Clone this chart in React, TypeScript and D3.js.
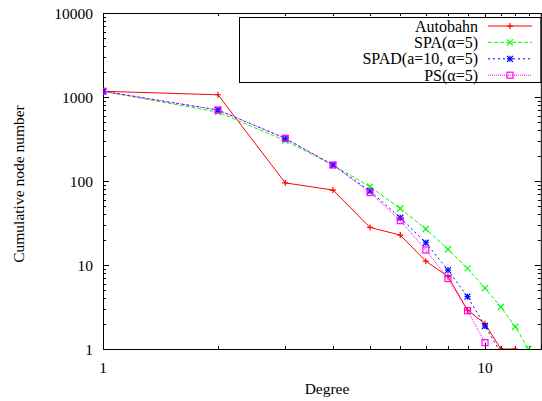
import React, { useEffect, useRef } from "react";
import * as d3 from "d3";

// degree values (x)
const degrees = [1, 2, 3, 4, 5, 6, 7, 8, 9, 10, 11, 12, 13];

// cumulative node numbers
const autobahn = [1170, 1063, 95, 78, 28, 22.7, 11.1, 7.3, 2.9, 2.0, 1, 1];
const spa = [1170, 660, 302, 155, 85.5, 47, 26.8, 15.4, 9.1, 5.3, 3.16, 1.84, 1];
const spad = [1170, 700, 322, 155, 76, 36.5, 18.4, 8.7, 4.2, 1.88, 0.9];
const ps = [1170, 700, 322, 155, 73, 33.7, 15.1, 6.9, 2.86, 1.19];

const seriesNames = ["Autobahn", "SPA(α=5)", "SPAD(a=10, α=5)", "PS(α=5)"];
const yTicks = [1, 10, 100, 1000, 10000];
const xTicks = [1, 10];

const W = 542,
  H = 401;
const FONT = "'Liberation Serif', 'Times New Roman', serif";

export default function App() {
  const ref = useRef<SVGSVGElement>(null);

  useEffect(() => {
    const svg = d3.select(ref.current);
    svg.selectAll("*").remove();

    const left = 103,
      top = 13,
      bottom = 349;
    const x = d3
      .scaleLog()
      .domain([1, 14])
      .range([left, left + 382 * Math.log10(14)]);
    const y = d3.scaleLog().domain([1, 10000]).range([bottom, top]);
    const right = x(14);

    const styles = [
      { color: "#ff0000", dash: null, marker: "plus" },
      { color: "#00ff00", dash: "4,2", marker: "cross" },
      { color: "#0000ff", dash: "2,3", marker: "star" },
      { color: "#ff00ff", dash: "1,1", marker: "square" },
    ];
    const allData = [autobahn, spa, spad, ps];

    svg
      .append("clipPath")
      .attr("id", "plotclip")
      .append("rect")
      .attr("x", left)
      .attr("y", top)
      .attr("width", right - left)
      .attr("height", bottom - top);

    // ticks (mirror on all sides, pointing inward)
    const axis = svg.append("g").attr("stroke", "#000").attr("stroke-width", 1);
    for (let d = 1; d <= 10000; d *= 10) {
      for (let m = 1; m <= 9; m++) {
        const v = d * m;
        if (v > 10000) break;
        const yy = Math.round(y(v)) + 0.5;
        const len = m === 1 ? 6 : 3;
        axis.append("line").attr("x1", left).attr("x2", left + len).attr("y1", yy).attr("y2", yy);
        axis.append("line").attr("x1", right).attr("x2", right - len).attr("y1", yy).attr("y2", yy);
      }
    }
    for (let v = 1; v <= 14; v++) {
      const xx = Math.round(x(v)) + 0.5;
      const len = v === 1 || v === 10 ? 6 : 3;
      axis.append("line").attr("x1", xx).attr("x2", xx).attr("y1", bottom).attr("y2", bottom - len);
      axis.append("line").attr("x1", xx).attr("x2", xx).attr("y1", top).attr("y2", top + len);
    }
    axis
      .append("rect")
      .attr("x", left + 0.5)
      .attr("y", top + 0.5)
      .attr("width", right - left)
      .attr("height", bottom - top)
      .attr("fill", "none");

    // tick labels
    const labels = svg.append("g").attr("font-family", FONT).attr("font-size", 15.5).attr("fill", "#000");
    yTicks.forEach((t) => {
      labels
        .append("text")
        .attr("x", 93)
        .attr("y", y(t) + 5.5)
        .attr("text-anchor", "end")
        .text(d3.format("d")(t));
    });
    xTicks.forEach((t) => {
      labels
        .append("text")
        .attr("x", x(t))
        .attr("y", 372.5)
        .attr("text-anchor", "middle")
        .text(t);
    });
    labels
      .append("text")
      .attr("x", 327)
      .attr("y", 393.5)
      .attr("text-anchor", "middle")
      .text("Degree");
    labels
      .append("text")
      .attr("transform", "translate(24," + 184 + ") rotate(-90)")
      .attr("text-anchor", "middle")
      .text("Cumulative node number");

    const drawMarker = (g: any, kind: string, cx: number, cy: number, color: string) => {
      const s = 3;
      if (kind === "plus" || kind === "star") {
        g.append("line").attr("x1", cx - s).attr("x2", cx + s).attr("y1", cy).attr("y2", cy).attr("stroke", color);
        g.append("line").attr("x1", cx).attr("x2", cx).attr("y1", cy - s).attr("y2", cy + s).attr("stroke", color);
      }
      if (kind === "cross" || kind === "star") {
        g.append("line").attr("x1", cx - s).attr("x2", cx + s).attr("y1", cy - s).attr("y2", cy + s).attr("stroke", color);
        g.append("line").attr("x1", cx - s).attr("x2", cx + s).attr("y1", cy + s).attr("y2", cy - s).attr("stroke", color);
      }
      if (kind === "square") {
        g.append("rect")
          .attr("x", cx - s)
          .attr("y", cy - s)
          .attr("width", 2 * s)
          .attr("height", 2 * s)
          .attr("fill", "none")
          .attr("stroke", color);
      }
    };

    // series
    const plot = svg.append("g").attr("clip-path", "url(#plotclip)");
    const line = d3
      .line<number>()
      .x((d, i) => x(degrees[i]))
      .y((d) => y(d));
    allData.forEach((data, k) => {
      const st = styles[k];
      plot
        .append("path")
        .attr("d", line(data))
        .attr("fill", "none")
        .attr("stroke", st.color)
        .attr("stroke-width", 1)
        .attr("stroke-dasharray", st.dash);
      const mg = plot.append("g").attr("stroke-width", 1.2);
      data.forEach((v, i) => {
        if (v >= 1) drawMarker(mg, st.marker, x(degrees[i]), y(v), st.color);
      });
    });

    // legend
    const leg = svg.append("g");
    leg
      .append("rect")
      .attr("x", 239.5)
      .attr("y", 17.5)
      .attr("width", right - 239.5)
      .attr("height", 65)
      .attr("fill", "#fff")
      .attr("stroke", "#000");
    seriesNames.forEach((name, k) => {
      const st = styles[k];
      const cy = 26 + k * 16.4;
      leg
        .append("text")
        .attr("x", 478)
        .attr("y", cy + 5.5)
        .attr("text-anchor", "end")
        .attr("font-family", FONT)
        .attr("font-size", 16)
        .text(name);
      leg
        .append("line")
        .attr("x1", 488)
        .attr("x2", 532)
        .attr("y1", cy)
        .attr("y2", cy)
        .attr("stroke", st.color)
        .attr("stroke-dasharray", st.dash);
      const mg = leg.append("g").attr("stroke-width", 1.2);
      drawMarker(mg, st.marker, 510, cy, st.color);
    });
  }, []);

  return (
    <div style={{ position: "absolute", left: 0, top: 0 }}>
      <svg ref={ref} width={W} height={H} style={{ display: "block", background: "#fff" }} />
    </div>
  );
}
